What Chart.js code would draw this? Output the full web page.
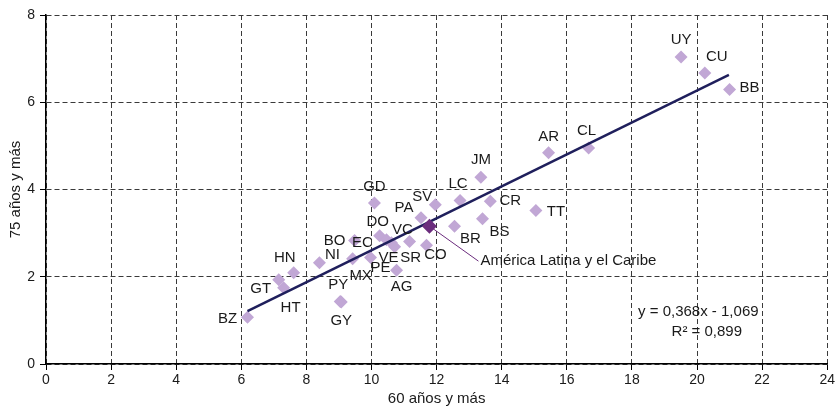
<!DOCTYPE html>
<html><head><meta charset="utf-8">
<script src="https://cdn.jsdelivr.net/npm/chart.js@4/dist/chart.umd.min.js"></script>
<style>html,body{margin:0;padding:0;background:#fff}#wrap{width:837px;height:408px}</style>
</head><body><div id="wrap"><canvas id="c"></canvas></div>
<script>
const codes = ['UY','CU','BB','CL','AR','JM','LC','CR','TT','BS','BR','SV','PA','GD','DO','EC','VC','VE','SR','CO','BO','NI','MX','PE','AG','PY','GY','HN','GT','HT','BZ'];
const x60 = [19.51,20.24,21.0,16.67,15.44,13.36,12.72,13.65,15.05,13.41,12.55,11.96,11.52,10.09,10.25,10.46,10.61,10.71,11.17,11.69,9.48,8.40,9.42,9.97,10.77,9.04,9.07,7.61,7.15,7.30,6.19];
const y75 = [7.04,6.67,6.29,4.95,4.84,4.28,3.75,3.73,3.52,3.33,3.16,3.65,3.35,3.69,2.94,2.85,2.78,2.69,2.81,2.72,2.83,2.32,2.41,2.44,2.15,1.43,1.42,2.09,1.93,1.75,1.07];
const lacName = 'América Latina y el Caribe';
const lacX = [11.78];
const lacY = [3.16];
const trendX = [6.19, 20.98];
const trendY = [1.21, 6.63];
const xTickLabels = ['0','2','4','6','8','10','12','14','16','18','20','22','24'];
const yTickLabels = ['0','2','4','6','8'];
const xTitle = '60 años y más';
const yTitle = '75 años y más';
const eqLine1 = 'y = 0,368x - 1,069';
const eqLine2 = 'R² = 0,899';

// label placement (pixel offsets from marker centre)
const labelOffsets = {
  UY:[0,-17], CU:[12,-16], BB:[20,-2], CL:[-2,-17], AR:[0,-16], JM:[0,-17], LC:[-2,-17],
  CR:[20,0], TT:[20,1], BS:[17,13], BR:[16,13], SV:[-13,-8], PA:[-17,-10], GD:[0,-16],
  DO:[-2,-14], EC:[-24,3], VC:[11,-13], VE:[-6,11], SR:[1,16], CO:[9,10], BO:[-20,0],
  NI:[13,-8], MX:[8,17], PE:[10,10], AG:[5,17], PY:[-2,-17], GY:[0,19], HN:[-9,-15],
  GT:[-18,9], HT:[7,20], BZ:[-20,2]
};

const FONT = '"Liberation Sans", Arial, sans-serif';
const TXT = '#1a1a1a';

const labelPlugin = {
  id: 'labels',
  afterDatasetsDraw(chart) {
    const ctx = chart.ctx;
    ctx.save();
    ctx.font = '15px ' + FONT;
    ctx.fillStyle = TXT;
    ctx.textAlign = 'center';
    ctx.textBaseline = 'middle';
    const meta = chart.getDatasetMeta(2);
    meta.data.forEach((pt, i) => {
      const off = labelOffsets[codes[i]] || [0,-15];
      ctx.fillText(codes[i], pt.x + off[0], pt.y + off[1]);
    });
    const lp = chart.getDatasetMeta(0).data[0];
    ctx.strokeStyle = '#6b2c7d';
    ctx.lineWidth = 1;
    ctx.beginPath();
    ctx.moveTo(lp.x, lp.y);
    ctx.lineTo(lp.x + 49, lp.y + 35);
    ctx.stroke();
    ctx.textAlign = 'left';
    ctx.fillText(lacName, lp.x + 51, lp.y + 35);
    const xs = chart.scales.x, ys = chart.scales.y;
    ctx.textAlign = 'center';
    ctx.fillText(eqLine1, xs.getPixelForValue(20.04), ys.getPixelForValue(1.2));
    ctx.fillText(eqLine2, xs.getPixelForValue(20.3), ys.getPixelForValue(0.73));
    ctx.restore();
  }
};

const gridOpts = { color:'#3a3a3a', lineWidth:1, tickBorderDash:[], tickColor:'#000', tickLength:6 };
const borderOpts = { display:true, color:'#000', width:1.5, dash:[5,3] };

new Chart(document.getElementById('c'), {
  type: 'scatter',
  data: {
    datasets: [
      { label: lacName, data: lacX.map((v,i)=>({x:v,y:lacY[i]})), pointStyle:'rectRot', pointRadius:7.5,
        backgroundColor:'#6b2c7d', borderColor:'#6b2c7d', borderWidth:0 },
      { label: 'trend', type:'line', data: trendX.map((v,i)=>({x:v,y:trendY[i]})), borderColor:'#1f1f5c',
        borderWidth:2.5, pointRadius:0, fill:false, showLine:true },
      { label: 'países', data: x60.map((v,i)=>({x:v,y:y75[i]})), pointStyle:'rectRot', pointRadius:6.5,
        backgroundColor:'#c1a7d5', borderColor:'#c1a7d5', borderWidth:0 }
    ]
  },
  options: {
    responsive: true, maintainAspectRatio: false, animation: false,
    layout: { padding: { top: 15, right: 9, left: 0, bottom: 0 } },
    plugins: { legend: { display: false }, tooltip: { enabled: false } },
    scales: {
      x: {
        type: 'linear', min: 0, max: 24,
        afterFit(s){ s.height = 44; },
        ticks: { stepSize: 2, color:TXT, font:{family:FONT,size:14}, padding:2,
          callback:(v)=> xTickLabels[Math.round(v/2)] },
        grid: gridOpts,
        border: borderOpts,
        title: { display:true, text:xTitle, color:TXT, font:{family:FONT,size:15}, padding:{top:0,bottom:0} }
      },
      y: {
        type: 'linear', min: 0, max: 8,
        afterFit(s){ s.width = 46; },
        ticks: { stepSize: 2, color:TXT, font:{family:FONT,size:14}, padding:5,
          callback:(v)=> yTickLabels[Math.round(v/2)] },
        grid: gridOpts,
        border: borderOpts,
        title: { display:true, text:yTitle, color:TXT, font:{family:FONT,size:15}, padding:{top:7,bottom:0} }
      }
    }
  },
  plugins: [labelPlugin]
});
</script>
</body></html>
